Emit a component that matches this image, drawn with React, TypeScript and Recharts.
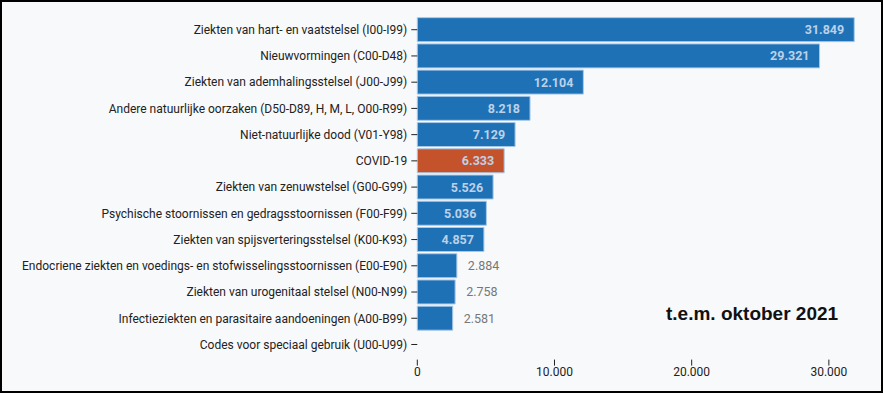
import React from "react";
import { BarChart, Bar, XAxis, YAxis, Cell } from "recharts";

const categories = [
  "Ziekten van hart- en vaatstelsel (I00-I99)",
  "Nieuwvormingen (C00-D48)",
  "Ziekten van ademhalingsstelsel (J00-J99)",
  "Andere natuurlijke oorzaken (D50-D89, H, M, L, O00-R99)",
  "Niet-natuurlijke dood (V01-Y98)",
  "COVID-19",
  "Ziekten van zenuwstelsel (G00-G99)",
  "Psychische stoornissen en gedragsstoornissen (F00-F99)",
  "Ziekten van spijsverteringsstelsel (K00-K93)",
  "Endocriene ziekten en voedings- en stofwisselingsstoornissen (E00-E90)",
  "Ziekten van urogenitaal stelsel (N00-N99)",
  "Infectieziekten en parasitaire aandoeningen (A00-B99)",
  "Codes voor speciaal gebruik (U00-U99)",
];

const deaths = [31849, 29321, 12104, 8218, 7129, 6333, 5526, 5036, 4857, 2884, 2758, 2581, 0];

const highlighted = ["COVID-19"];

const xTicks = [0, 10000, 20000, 30000];

const annotation = "t.e.m. oktober 2021";

const data = categories.map((name, i) => ({ name, value: deaths[i] }));

const fmt = (v: number) => {
  const s = Math.round(v).toString();
  return s.replace(/\B(?=(\d{3})+(?!\d))/g, ".");
};

const BLUE = "#1f71b6";
const ORANGE = "#c4532c";

const renderLabel = (props: any) => {
  const { x, y, width, height, value } = props;
  if (!value) return null;
  const cy = y + height / 2;
  if (value >= 4000) {
    return (
      <text
        x={x + width - 10}
        y={cy}
        dy="0.36em"
        textAnchor="end"
        fontFamily="Roboto"
        fontSize={12.5}
        fontWeight={700}
        fill="#bcd1e8"
      >
        {fmt(value)}
      </text>
    );
  }
  return (
    <text
      x={x + width + 11}
      y={cy}
      dy="0.36em"
      textAnchor="start"
      fontFamily="Roboto"
      fontSize={12.5}
      fill="#777777"
    >
      {fmt(value)}
    </text>
  );
};

const CategoryTick = (props: any) => {
  const { x, y, payload } = props;
  return (
    <text
      x={x - 2}
      y={y}
      dy="0.355em"
      textAnchor="end"
      fontFamily="Roboto"
      fontSize={12}
      fill="#222"
    >
      {payload.value}
    </text>
  );
};

export default function App() {
  return (
    <div
      style={{
        position: "absolute",
        left: 0,
        top: 0,
        width: 883,
        height: 393,
        boxSizing: "border-box",
        border: "2px solid #000",
        background: "#f8f9fb",
        fontFamily: "Roboto",
      }}
    >
      <BarChart
        width={879}
        height={389}
        data={data}
        layout="vertical"
        margin={{ top: 14.6, right: 24.7, bottom: 3.4, left: 0 }}
        barCategoryGap="4%"
      >
        <XAxis
          type="number"
          domain={[0, 32000]}
          ticks={xTicks}
          tickFormatter={fmt}
          axisLine={false}
          tickLine={{ stroke: "#222", transform: "translate(0, 2)" }}
          tickMargin={4}
          tick={{ fill: "#222", fontSize: 12, fontFamily: "Roboto" }}
          height={30}
        />
        <YAxis
          type="category"
          dataKey="name"
          width={415.3}
          axisLine={false}
          tickLine={{ stroke: "#222" }}
          tick={<CategoryTick />}
          interval={0}
        />
        <Bar
          dataKey="value"
          isAnimationActive={false}
          stroke="#a9c9e8"
          strokeWidth={1}
          label={renderLabel}
        >
          {data.map((d, i) => (
            <Cell key={i} fill={highlighted.includes(d.name) ? ORANGE : BLUE} />
          ))}
        </Bar>
      </BarChart>
      <div
        style={{
          position: "absolute",
          left: 664,
          top: 301,
          fontFamily: "'Liberation Sans', Arial, sans-serif",
          fontWeight: 700,
          fontSize: 19,
          color: "#111",
          whiteSpace: "nowrap",
        }}
      >
        {annotation}
      </div>
    </div>
  );
}
